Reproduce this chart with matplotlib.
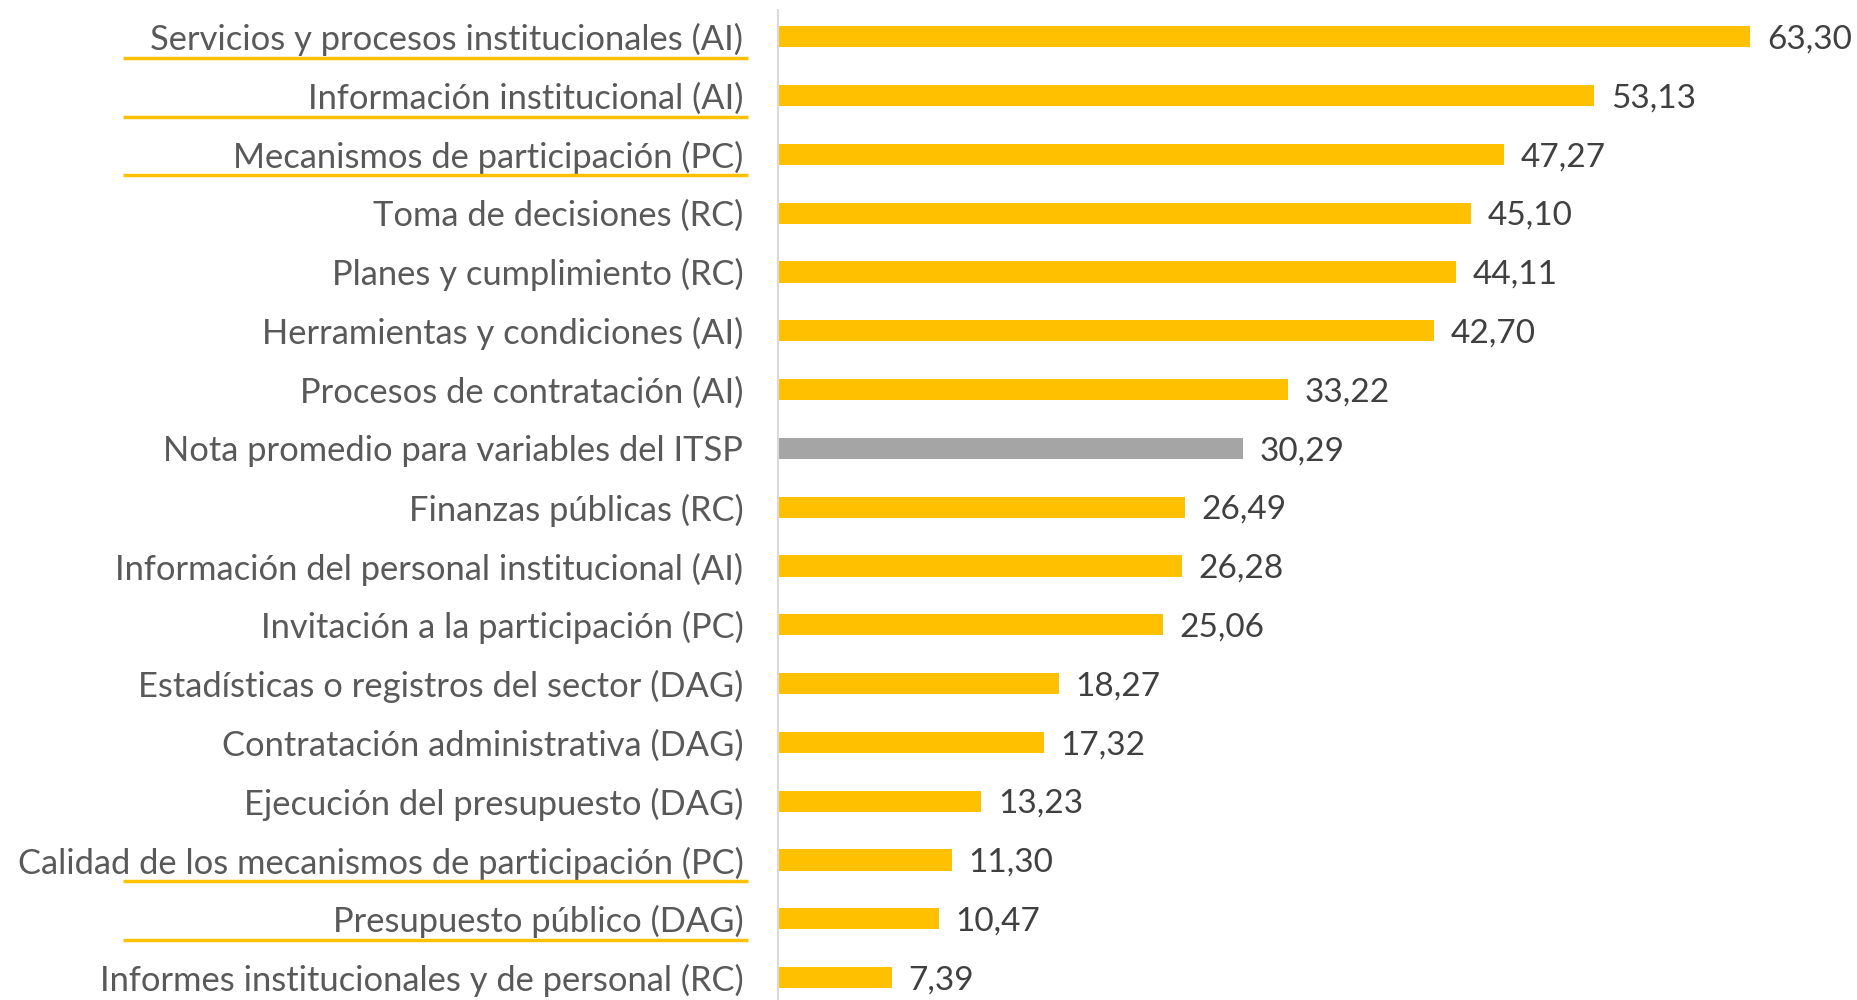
import matplotlib
matplotlib.use("Agg")
import matplotlib.pyplot as plt
from matplotlib.transforms import blended_transform_factory

categories = [
    "Servicios y procesos institucionales (AI)",
    "Información institucional (AI)",
    "Mecanismos de participación (PC)",
    "Toma de decisiones (RC)",
    "Planes y cumplimiento (RC)",
    "Herramientas y condiciones (AI)",
    "Procesos de contratación (AI)",
    "Nota promedio para variables del ITSP",
    "Finanzas públicas (RC)",
    "Información del personal institucional (AI)",
    "Invitación a la participación (PC)",
    "Estadísticas o registros del sector (DAG)",
    "Contratación administrativa (DAG)",
    "Ejecución del presupuesto (DAG)",
    "Calidad de los mecanismos de participación (PC)",
    "Presupuesto público (DAG)",
    "Informes institucionales y de personal (RC)",
]
values = [63.30, 53.13, 47.27, 45.10, 44.11, 42.70, 33.22, 30.29, 26.49,
          26.28, 25.06, 18.27, 17.32, 13.23, 11.30, 10.47, 7.39]
highlight = "Nota promedio para variables del ITSP"
underlined = [
    "Servicios y procesos institucionales (AI)",
    "Información institucional (AI)",
    "Mecanismos de participación (PC)",
    "Calidad de los mecanismos de participación (PC)",
    "Presupuesto público (DAG)",
]

GOLD = "#FFC000"
GRAY = "#A5A5A5"
LABEL_COLOR = "#595959"
VALUE_COLOR = "#404040"

plt.rcParams["font.family"] = ["Lato", "DejaVu Sans"]

fig = plt.figure(figsize=(18.57, 10), dpi=100)
ax = fig.add_axes([778 / 1857, 0.0, 1 - 778 / 1857, 1.0])

ypos = list(range(len(categories)))
colors = [GRAY if c == highlight else GOLD for c in categories]
ax.barh(ypos, values, height=0.36, color=colors, zorder=2)

ax.set_xlim(0, 1079 / 15.36)
ax.set_ylim(16.38, -0.624)
ax.set_yticks(ypos)
ax.set_yticklabels(categories, fontsize=24.8, color=LABEL_COLOR)
ax.tick_params(axis="y", length=0, pad=25)
ax.set_xticks([])

for s in ["top", "right", "bottom"]:
    ax.spines[s].set_visible(False)
ax.spines["left"].set_color("#D9D9D9")
ax.spines["left"].set_linewidth(1.5)
ax.spines["left"].set_bounds(-0.46, 16.38)

for y, v in zip(ypos, values):
    ax.annotate(f"{v:.2f}".replace(".", ","), xy=(v, y), xytext=(12, -2),
                textcoords="offset points", va="center", ha="left",
                fontsize=24, color=VALUE_COLOR)

trans = blended_transform_factory(fig.transFigure, ax.transData)
for c in underlined:
    i = categories.index(c)
    yy = i + 0.36
    ax.plot([123 / 1857, 748 / 1857], [yy, yy], transform=trans,
            color=GOLD, lw=2.5, clip_on=False, solid_capstyle="butt")

fig.savefig("out.png", dpi=100)
